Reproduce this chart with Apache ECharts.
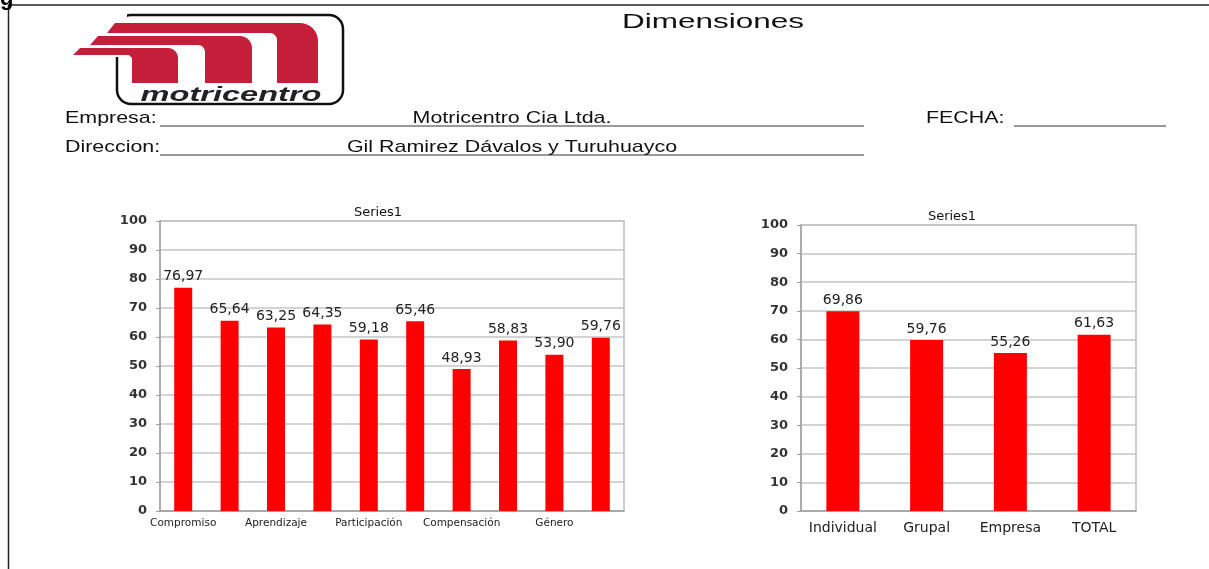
<!DOCTYPE html>
<html>
<head>
<meta charset="utf-8">
<script src="https://cdn.jsdelivr.net/npm/echarts@6/dist/echarts.min.js"></script>
<style>
  html, body { margin: 0; padding: 0; background: #fff; }
  #main { width: 1209px; height: 569px; }
</style>
</head>
<body>
<div id="main"></div>
<script>
// datos de las dimensiones (grafico izquierdo)
const dimCategorias = ['Compromiso', '', 'Aprendizaje', '', 'Participación', '', 'Compensación', '', 'Género', ''];
const dimValores = [76.97, 65.64, 63.25, 64.35, 59.18, 65.46, 48.93, 58.83, 53.90, 59.76];

// datos por nivel (grafico derecho)
const nivelCategorias = ['Individual', 'Grupal', 'Empresa', 'TOTAL'];
const nivelValores = [69.86, 59.76, 55.26, 61.63];

const yTicks = { min: 0, max: 100, interval: 10 };

window.onload = init;

let grafico;

function init() {
    grafico = echarts.init(document.getElementById('main'));
    grafico.setOption(construirOpciones());
}

function etiquetaValor(p) {
    return p.value.toFixed(2).replace('.', ',');
}

function ejeY(idx, margen) {
    return {
        type: 'value', gridIndex: idx,
        min: yTicks.min, max: yTicks.max, interval: yTicks.interval,
        axisLine: { show: true, lineStyle: { color: '#a0a0a0', width: 1.5 } },
        axisTick: { show: true, length: 4, lineStyle: { color: '#a0a0a0' } },
        axisLabel: { color: '#333', fontSize: 13, fontWeight: 'bold', fontFamily: 'DejaVu Sans', margin: margen },
        splitLine: { lineStyle: { color: '#c4c4c4', width: 1.5 } }
    };
}

// puntos de un arco (para el logo)
function arco(cx, cy, r, a0, a1, n) {
    const pts = [];
    for (let i = 0; i <= n; i++) {
        const a = (a0 + (a1 - a0) * i / n) * Math.PI / 180;
        pts.push([cx + r * Math.cos(a), cy - r * Math.sin(a)]);
    }
    return pts;
}

function logo() {
    const rojo = '#c41e3a';
    const pieza1 = [[115, 23]].concat(arco(300, 41, 18, 90, 0, 10))
        .concat([[318, 83], [277, 83]]).concat(arco(270, 40, 7, 0, 90, 5)).concat([[107, 33]]);
    const pieza2 = [[98, 36]].concat(arco(240, 48, 12, 90, 0, 8))
        .concat([[252, 83], [205, 83]]).concat(arco(198, 52, 7, 0, 90, 5)).concat([[90, 45]]);
    const pieza3 = [[80, 48]].concat(arco(168, 58, 10, 90, 0, 8))
        .concat([[178, 83], [132, 83], [132, 58], [129, 55], [73, 55]]);
    const poly = pts => ({ type: 'polygon', shape: { points: pts }, style: { fill: rojo } });
    return [
        { type: 'rect', shape: { x: 117, y: 15, width: 226, height: 89, r: 14 },
          style: { stroke: '#111', lineWidth: 2.5, fill: 'none' } },
        { type: 'rect', shape: { x: 105, y: 8, width: 22, height: 49 }, style: { fill: '#fff' } },
        poly(pieza1), poly(pieza2), poly(pieza3),
        { type: 'text', x: 231, y: 95, scaleX: 1.55, originX: 0, originY: 0,
          style: { text: 'motricentro', font: 'italic bold 21px Liberation Sans', fill: '#222',
                   textAlign: 'center', textVerticalAlign: 'middle' } }
    ];
}

function encabezado() {
    const txt = (x, y, t, font, align, sx) => ({
        type: 'text', x: x, y: y, scaleX: sx || 1, originX: 0, originY: 0,
        style: { text: t, font: font, fill: '#111', textAlign: align || 'left', textVerticalAlign: 'middle' }
    });
    const linea = (x1, y1, x2, y2, color, w) => ({
        type: 'line', shape: { x1, y1, x2, y2 }, style: { stroke: color, lineWidth: w }
    });
    const f = '17px Liberation Sans';
    return [
        // marco de pagina
        linea(8, 5, 1209, 5, '#222', 1.5),
        linea(8.5, 5, 8.5, 569, '#222', 1.5),
        { type: 'text', x: 0, y: -12, style: { text: 'g', font: 'bold 22px Liberation Sans', fill: '#000' } },
        txt(713, 22, 'Dimensiones', '21px Liberation Sans', 'center', 1.5),

        // datos de empresa
        txt(65, 118, 'Empresa:', f, 'left', 1.26),
        linea(160, 126, 864, 126, '#777', 1.5),
        txt(512, 118, 'Motricentro Cia Ltda.', f, 'center', 1.26),
        txt(926, 118, 'FECHA:', f, 'left', 1.26),
        linea(1014, 126, 1166, 126, '#777', 1.5),
        txt(65, 147, 'Direccion:', f, 'left', 1.26),
        linea(160, 155, 864, 155, '#777', 1.5),
        txt(512, 147, 'Gil Ramirez Dávalos y Turuhuayco', f, 'center', 1.26),

        // titulos de los graficos
        txt(378, 213, 'Series1', '13px DejaVu Sans', 'center'),
        txt(952, 217, 'Series1', '13px DejaVu Sans', 'center')
    ].concat(logo());
}

function construirOpciones() {
    return {
        animation: false,
        backgroundColor: '#fff',
        graphic: encabezado(),
        grid: [
            { left: 160, top: 221, width: 464, height: 290, show: true, borderColor: '#bbb', borderWidth: 1.5 },
            { left: 801, top: 225, width: 335, height: 286, show: true, borderColor: '#bbb', borderWidth: 1.5 }
        ],
        xAxis: [
            {
                type: 'category', gridIndex: 0, data: dimCategorias,
                axisLine: { lineStyle: { color: '#a0a0a0', width: 1.5 } },
                axisTick: { show: false },
                axisLabel: { interval: 0, color: '#222', fontSize: 10.5, fontFamily: 'DejaVu Sans', margin: 7 }
            },
            {
                type: 'category', gridIndex: 1, data: nivelCategorias,
                axisLine: { lineStyle: { color: '#a0a0a0', width: 1.5 } },
                axisTick: { show: false },
                axisLabel: { interval: 0, color: '#222', fontSize: 14, fontFamily: 'DejaVu Sans', margin: 10 }
            }
        ],
        yAxis: [ejeY(0, 13), ejeY(1, 13)],
        series: [
            {
                name: 'Series1', type: 'bar', xAxisIndex: 0, yAxisIndex: 0,
                data: dimValores, barWidth: 18,
                itemStyle: { color: '#ff0000' },
                label: { show: true, position: 'top', distance: 4, formatter: etiquetaValor,
                         color: '#222', fontSize: 14, fontFamily: 'DejaVu Sans' }
            },
            {
                name: 'Series1', type: 'bar', xAxisIndex: 1, yAxisIndex: 1,
                data: nivelValores, barWidth: 33,
                itemStyle: { color: '#ff0000' },
                label: { show: true, position: 'top', distance: 4, formatter: etiquetaValor,
                         color: '#222', fontSize: 14, fontFamily: 'DejaVu Sans' }
            }
        ]
    };
}
</script>
</body>
</html>
